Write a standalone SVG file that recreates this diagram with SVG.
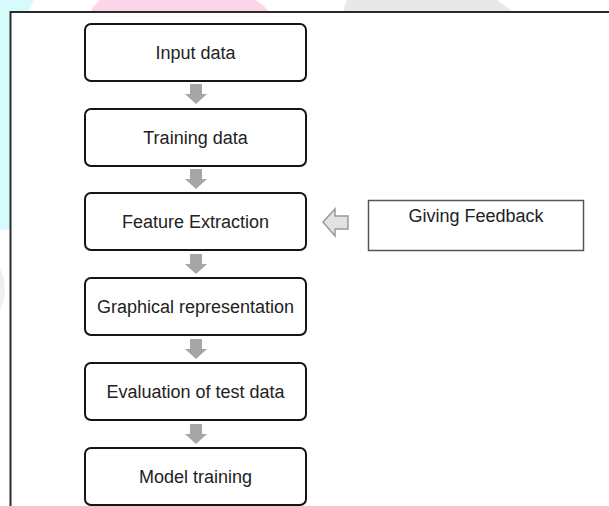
<svg xmlns="http://www.w3.org/2000/svg" width="609" height="506" viewBox="0 0 609 506">
<style>
.box{fill:#ffffff;stroke:#151515;stroke-width:2}
.lbl{font-family:"Liberation Sans",Arial,sans-serif;font-size:18px;fill:#222222;text-anchor:middle}
.down{fill:#a6a6a6}
</style>
<rect width="609" height="506" fill="#ffffff"/>
<g id="background">
<path d="M0,0 H34 Q30,6 28,12 H0 Z" fill="#d6fbfd"/>
<rect x="0" y="0" width="10" height="230" fill="#d6fbfd"/>
<path d="M100,0 H256 Q264,6 270,12 H90 Q94,5 100,0 Z" fill="#fcd6e8"/>
<path d="M347,0 H497 Q506,6 513,12 H343 Q345,5 347,0 Z" fill="#e8e8e8"/>
<path d="M0,268 Q10,288 0,310 Z" fill="#efefef"/>
</g>
<g id="frame">
<path d="M10.5,506 V12 H609" fill="none" stroke="#2a2a2a" stroke-width="2"/>
</g>
<g id="connectors">
<path class="down" d="M190,84 h12 v10 h5 l-11,10 l-11,-10 h5 z"/>
<path class="down" d="M190,169 h12 v10 h5 l-11,10 l-11,-10 h5 z"/>
<path class="down" d="M190,254 h12 v10 h5 l-11,10 l-11,-10 h5 z"/>
<path class="down" d="M190,339 h12 v10 h5 l-11,10 l-11,-10 h5 z"/>
<path class="down" d="M190,424 h12 v10 h5 l-11,10 l-11,-10 h5 z"/>
<path d="M323,222 l12,-13 v7 h13 v13 h-13 v7 z" fill="#e2e2e2" stroke="#9a9a9a" stroke-width="1.5"/>
</g>
<g id="input-data">
<rect class="box" x="85" y="24" width="221" height="57" rx="6"/>
<text class="lbl" x="195.5" y="59">Input data</text>
</g>
<g id="training-data">
<rect class="box" x="85" y="109" width="221" height="57" rx="6"/>
<text class="lbl" x="195.5" y="144">Training data</text>
</g>
<g id="feature-extraction">
<rect class="box" x="85" y="193" width="221" height="57" rx="6"/>
<text class="lbl" x="195.5" y="228">Feature Extraction</text>
</g>
<g id="graphical-representation">
<rect class="box" x="85" y="278" width="221" height="57" rx="6"/>
<text class="lbl" x="195.5" y="313">Graphical representation</text>
</g>
<g id="evaluation">
<rect class="box" x="85" y="363" width="221" height="57" rx="6"/>
<text class="lbl" x="195.5" y="398">Evaluation of test data</text>
</g>
<g id="model-training">
<rect class="box" x="85" y="448" width="221" height="57" rx="6"/>
<text class="lbl" x="195.5" y="483">Model training</text>
</g>
<g id="giving-feedback">
<rect x="368.5" y="200.5" width="215" height="50" fill="#ffffff" stroke="#555555" stroke-width="1.5"/>
<text class="lbl" x="476" y="222">Giving Feedback</text>
</g>
</svg>
